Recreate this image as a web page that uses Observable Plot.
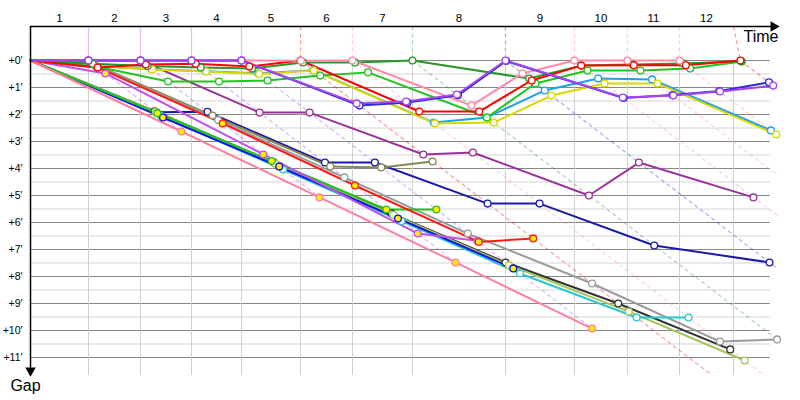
<!DOCTYPE html>
<html><head><meta charset="utf-8">
<script src="https://cdn.jsdelivr.net/npm/d3@7"></script>
<script src="https://cdn.jsdelivr.net/npm/@observablehq/plot@0.6"></script>
<style>body{margin:0;background:#fff}</style>
</head><body><div id="chart"></div>
<script>
// ---- data (minutes) ----
const laps = [1,2,3,4,5,6,7,8,9,10,11,12];
const leaderTimes = [0, 1.643, 3.116, 4.561, 5.977, 7.649, 9.122, 10.82, 13.456, 15.41, 16.91, 18.385, 20.11];
const gridTimes = [0, 1.643, 3.116, 4.561, 5.977, 7.649, 9.122, 10.82, 13.456, 15.41, 16.91, 18.385, 19.915];
const lapLeaders = ["purple","purple","purple","purple","red","pink","darkGreen","blueTop","pink","pink","pink","red"];
// largest gap reached on each lap line (null = runs to the edge of the chart)
const lapLineMaxGap = [2.63, 5.07, 7.48, 9.93, null, null, null, null, null, null, null, null];
const gapTicks = [0,1,2,3,4,5,6,7,8,9,10,11];
const halfTicks = [0.5,1.5,2.5,3.5,4.5,5.5,6.5,7.5,8.5,9.5,10.5];

// gap to leader after each lap
const navy        = [1.92,1.90,3.78,3.78,5.30,5.30,6.85,7.48];
const olive       = [0.11,2.04,3.93,3.96,3.74];
const gray        = [0.15,2.20,4.33,6.41,8.26,10.41,10.33];
const black       = [1.88,3.78,5.67,7.48,9.00,10.70];
const yellowGreen = [1.90,3.82,5.72,7.58,9.30,11.11];
const cyan        = [2.05,4.04,5.95,7.89,9.52,9.52];
const blueBack    = [2.11,3.93,5.85,7.70];
const greenBack   = [1.95,3.72,5.52,5.52];
const violetBack  = [0.48,3.48,6.41,6.68];
const redBack     = [0.26,2.33,4.63,6.72,6.59];
const pinkBack    = [2.63,5.07,7.48,9.93];
const magenta     = [0,0,1.93,1.93,3.48,3.41,5.00,3.78,5.07];
const lightBlue   = [0.20,0.32,0.40,0.48,0.36,2.30,2.11,1.11,0.67,0.70,2.59];
const yellow      = [0.20,0.33,0.41,0.50,0.37,2.33,2.30,1.30,0.85,0.85,2.74];
const green       = [0.22,0.78,0.78,0.74,0.56,0.44,2.11,0.85,0.37,0.37,0.30,0.04];
const darkGreen   = [0.12,0.20,0.26,0.30,0.07,0.07,0,0.67,0.19,0.15,0.11,0.03];
const red         = [0.26,0.15,0.12,0.22,0,1.89,1.89,0.74,0.19,0.18,0.18,0];
const pink        = [0,0,0,0,0.01,0,1.67,0.48,0,0,0];
const blueTop     = [0,0,0,0,1.67,1.56,1.29,0.02,1.39,1.28,1.13,0.81];
const purple      = [0,0,0,0,1.59,1.52,1.26,0,1.37,1.30,1.15,0.93];

const seriesGaps = {navy, olive, gray, black, yellowGreen, cyan, blueBack, greenBack, violetBack, redBack, pinkBack,
  magenta, lightBlue, yellow, green, darkGreen, red, pink, blueTop, purple};
const pitSeries = ["blueBack","greenBack","violetBack","redBack","pinkBack"];

// ---- styles ----
const colors = {
  navy:"#1a1aaa", olive:"#888855", gray:"#9a9a9a", black:"#333333", yellowGreen:"#a2c455", cyan:"#2ac8d0",
  blueBack:"#1010ee", greenBack:"#1ec41e", violetBack:"#c050f0", redBack:"#ff1a1a", pinkBack:"#ff7f9f",
  magenta:"#993399", lightBlue:"#1ea0f0", yellow:"#d8d800", green:"#22c422", darkGreen:"#2a962a",
  red:"#ff0000", pink:"#ff8aa8", blueTop:"#2b2bdd", purple:"#a444f4"
};

const yMin = -1.259, yMax = 11.667, xMax = 21.19, gridEnd = 20.96, lapLineEnd = 21.15;

const points = [];
for (const [name, gaps] of Object.entries(seriesGaps)) {
  points.push({name, lap: 0, t: 0, g: 0});
  gaps.forEach((g, i) => points.push({name, lap: i + 1, t: leaderTimes[i + 1] + g, g}));
}

const lapTops = [], lapDiagonals = [];
laps.forEach((k, i) => {
  const T = leaderTimes[k];
  const L = lapLineMaxGap[i] ?? Math.min(yMax, lapLineEnd - T);
  const c = colors[lapLeaders[i]];
  lapTops.push({x1: gridTimes[k], y1: yMin, x2: T, y2: 0, c, solid: k <= 4});
  lapDiagonals.push({x1: T, y1: 0, x2: T + L, y2: L, c});
});
const lapLabels = laps.map(k => ({k, x: (gridTimes[k - 1] + gridTimes[k]) / 2}));

const chart = Plot.plot({
  width: 800, height: 400,
  marginLeft: 30, marginRight: 22, marginTop: 26, marginBottom: 25,
  x: {domain: [0, xMax], axis: null},
  y: {domain: [yMin, yMax], reverse: true, axis: null},
  style: {fontFamily: "'Liberation Sans', Arial, sans-serif", background: "#fff"},
  marks: [
    Plot.ruleY(halfTicks, {x1: 0, x2: gridEnd, stroke: "#d4d4d4", strokeWidth: 1}),
    Plot.ruleY(gapTicks, {x1: 0, x2: gridEnd, stroke: "#858585", strokeWidth: 1}),
    Plot.ruleX(gridTimes.slice(1), {y1: 0, y2: yMax, stroke: "#d0d0d0", strokeWidth: 1}),
    Plot.link(lapTops.filter(d => d.solid), {x1: "x1", y1: "y1", x2: "x2", y2: "y2", stroke: "c", strokeOpacity: 0.35, strokeWidth: 1.2}),
    Plot.link(lapTops.filter(d => !d.solid), {x1: "x1", y1: "y1", x2: "x2", y2: "y2", stroke: "c", strokeOpacity: 0.4, strokeWidth: 1.2, strokeDasharray: "4,3"}),
    Plot.link(lapDiagonals, {x1: "x1", y1: "y1", x2: "x2", y2: "y2", stroke: "c", strokeOpacity: 0.4, strokeWidth: 1.2, strokeDasharray: "4,3"}),
    Plot.line(points, {x: "t", y: "g", z: "name", stroke: d => colors[d.name], strokeWidth: 2, strokeLinejoin: "round"}),
    Plot.dot(points.filter(d => d.lap > 0), {x: "t", y: "g", r: 3.4,
      stroke: d => colors[d.name], strokeWidth: 1.3,
      fill: d => pitSeries.includes(d.name) ? "#ffee00" : "#ffffff"}),
    // axes
    Plot.ruleY([yMin], {x1: 0, x2: xMax - 0.2, stroke: "#000", strokeWidth: 1.5}),
    Plot.ruleX([0], {y1: yMin, y2: yMax - 0.25, stroke: "#000", strokeWidth: 1.5}),
    Plot.dot([{x: xMax - 0.14, y: yMin}], {x: "x", y: "y", symbol: "triangle2", r: 5, rotate: 90, fill: "#000", stroke: null}),
    Plot.dot([{x: 0, y: yMax - 0.18}], {x: "x", y: "y", symbol: "triangle2", r: 5, rotate: 180, fill: "#000", stroke: null}),
    Plot.text(lapLabels, {x: "x", y: yMin, text: d => String(d.k), dy: -8, fontSize: 11.5, fill: "#000"}),
    Plot.text(gapTicks, {x: 0, y: d => d, text: d => `+${d}′`, textAnchor: "end", dx: -8, fontSize: 10.5, fill: "#000"}),
    Plot.text(["Time"], {x: xMax, y: yMin, textAnchor: "end", dy: 10, fontSize: 16, fill: "#000"}),
    Plot.text(["Gap"], {x: 0, y: yMax, dx: -5, dy: 10, fontSize: 16, fill: "#000"})
  ]
});
document.getElementById("chart").appendChild(chart);
</script>
</body></html>
